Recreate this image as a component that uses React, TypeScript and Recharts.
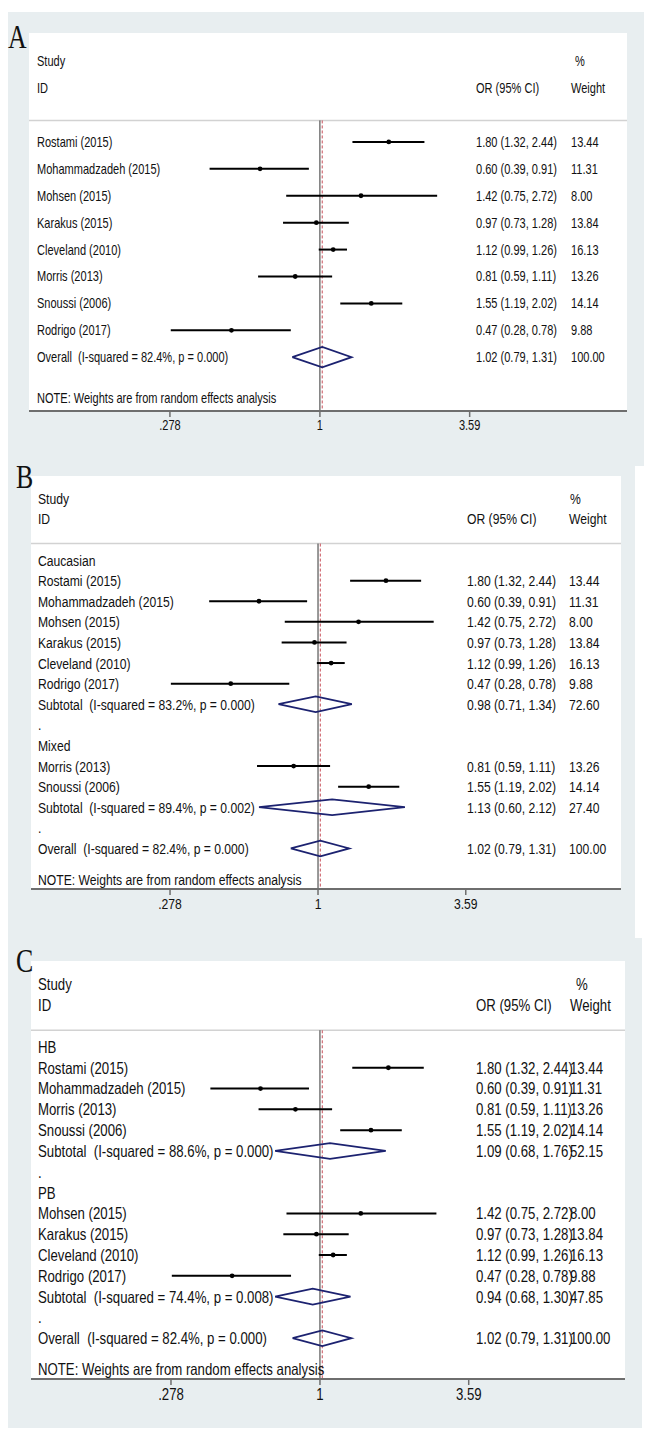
import React from "react";
import {
  ComposedChart,
  Scatter,
  XAxis,
  YAxis,
  ReferenceLine,
  ErrorBar,
  CartesianGrid,
} from "recharts";

// ---------- data ----------
const studyNames = [
  "Rostami (2015)",
  "Mohammadzadeh (2015)",
  "Mohsen (2015)",
  "Karakus (2015)",
  "Cleveland (2010)",
  "Morris (2013)",
  "Snoussi (2006)",
  "Rodrigo (2017)",
];
const studyOR = [1.8, 0.6, 1.42, 0.97, 1.12, 0.81, 1.55, 0.47];
const studyLo = [1.32, 0.39, 0.75, 0.73, 0.99, 0.59, 1.19, 0.28];
const studyHi = [2.44, 0.91, 2.72, 1.28, 1.26, 1.11, 2.02, 0.78];
const studyWeight = ["13.44", "11.31", "8.00", "13.84", "16.13", "13.26", "14.14", "9.88"];

const orderA = [0, 1, 2, 3, 4, 5, 6, 7];

const groupNamesB = ["Caucasian", "Mixed"];
const groupStudiesB = [[0, 1, 2, 3, 4, 7], [5, 6]];
const groupOrB = [0.98, 1.13];
const groupLoB = [0.71, 0.6];
const groupHiB = [1.34, 2.12];
const groupWeightB = ["72.60", "27.40"];
const groupI2B = ["83.2%", "89.4%"];
const groupPB = ["0.000", "0.002"];

const groupNamesC = ["HB", "PB"];
const groupStudiesC = [[0, 1, 5, 6], [2, 3, 4, 7]];
const groupOrC = [1.09, 0.94];
const groupLoC = [0.68, 0.68];
const groupHiC = [1.76, 1.3];
const groupWeightC = ["52.15", "47.85"];
const groupI2C = ["88.6%", "74.4%"];
const groupPC = ["0.000", "0.008"];

const overallOR = 1.02;
const overallLo = 0.79;
const overallHi = 1.31;
const overallWeight = "100.00";
const overallI2 = "82.4%";
const overallP = "0.000";

const tickValues = [0.278, 1, 3.59];
const tickLabels = [".278", "1", "3.59"];
const noteText = "NOTE: Weights are from random effects analysis";

// ---------- styling ----------
const FONT = '"Liberation Sans", Arial, Helvetica, sans-serif';
const SERIF = '"Liberation Serif", "DejaVu Serif", serif';
const SX = 0.8;
const GRAY = "#e8eef0";
const NAVY = "#1c2270";
const X_DOMAIN = [0.0835, 13.75];
const SEP = -0.8;
const DH = 0.38;

type Row = {
  y: number;
  kind: "head" | "group" | "study" | "pooled" | "dot" | "note";
  label: string;
  ci?: string;
  w?: string;
  or?: number;
  lo?: number;
  hi?: number;
};

const f2 = (n: number) => n.toFixed(2);
const ciStr = (o: number, l: number, h: number) => `${f2(o)} (${f2(l)}, ${f2(h)})`;

type Group = {
  name?: string;
  idx: number[];
  pooled?: { or: number; lo: number; hi: number; w: string; i2: string; p: string };
};

function buildRows(groups: Group[]): Row[] {
  const rows: Row[] = [
    { y: -3, kind: "head", label: "Study", w: "%" },
    { y: -2, kind: "head", label: "ID", ci: "OR (95% CI)", w: "Weight" },
  ];
  let y = 0;
  groups.forEach((g) => {
    if (g.name) rows.push({ y: y++, kind: "group", label: g.name });
    g.idx.forEach((i) => {
      rows.push({
        y: y++,
        kind: "study",
        label: studyNames[i],
        ci: ciStr(studyOR[i], studyLo[i], studyHi[i]),
        w: studyWeight[i],
        or: studyOR[i],
        lo: studyLo[i],
        hi: studyHi[i],
      });
    });
    if (g.pooled) {
      const p = g.pooled;
      rows.push({
        y: y++,
        kind: "pooled",
        label: `Subtotal  (I-squared = ${p.i2}, p = ${p.p})`,
        ci: ciStr(p.or, p.lo, p.hi),
        w: p.w,
        or: p.or,
        lo: p.lo,
        hi: p.hi,
      });
      rows.push({ y: y++, kind: "dot", label: "." });
    }
  });
  rows.push({
    y: y,
    kind: "pooled",
    label: `Overall  (I-squared = ${overallI2}, p = ${overallP})`,
    ci: ciStr(overallOR, overallLo, overallHi),
    w: overallWeight,
    or: overallOR,
    lo: overallLo,
    hi: overallHi,
  });
  rows.push({ y: y + 1.5, kind: "note", label: noteText });
  return rows;
}

const rowsA = buildRows([{ idx: orderA }]);
const rowsB = buildRows(
  groupNamesB.map((n, k) => ({
    name: n,
    idx: groupStudiesB[k],
    pooled: { or: groupOrB[k], lo: groupLoB[k], hi: groupHiB[k], w: groupWeightB[k], i2: groupI2B[k], p: groupPB[k] },
  }))
);
const rowsC = buildRows(
  groupNamesC.map((n, k) => ({
    name: n,
    idx: groupStudiesC[k],
    pooled: { or: groupOrC[k], lo: groupLoC[k], hi: groupHiC[k], w: groupWeightC[k], i2: groupI2C[k], p: groupPC[k] },
  }))
);

type Cfg = {
  top: number;
  height: number;
  grayWidth: number;
  margin: { top: number; right: number; bottom: number; left: number };
  yDomain: [number, number];
  fs: number;
  labelX: number;
  ciX: number;
  wX: number;
  pctDx: number;
  letter: string;
  letterX: number;
  letterBase: number;
};

const cfgA: Cfg = {
  top: 12,
  height: 454,
  grayWidth: 636,
  margin: { top: 21, right: 23, bottom: 25, left: 29 },
  yDomain: [-4.05, 10],
  fs: 13.8,
  labelX: 37,
  ciX: 476,
  wX: 571,
  pctDx: 4,
  letter: "A",
  letterX: 8,
  letterBase: 48,
};
const cfgB: Cfg = {
  top: 466,
  height: 472,
  grayWidth: 627,
  margin: { top: 10, right: 29, bottom: 19, left: 31 },
  yDomain: [-4.08, 15.97],
  fs: 15.2,
  labelX: 38,
  ciX: 467,
  wX: 569,
  pctDx: 1,
  letter: "B",
  letterX: 16,
  letterBase: 488,
};
const cfgC: Cfg = {
  top: 938,
  height: 490,
  grayWidth: 634,
  margin: { top: 23, right: 25, bottom: 19, left: 31 },
  yDomain: [-4.13, 15.96],
  fs: 16.5,
  labelX: 38,
  ciX: 476,
  wX: 570,
  pctDx: 6,
  letter: "C",
  letterX: 16,
  letterBase: 972,
};

function STxt({ x, y, text, fs, anchor = "start" }: { x: number; y: number; text: string; fs: number; anchor?: string }) {
  return (
    <text
      transform={`translate(${x},${y}) scale(${SX},1)`}
      fontSize={fs}
      fontFamily={FONT}
      fill="#111"
      dy="0.36em"
      textAnchor={anchor as any}
      style={{ whiteSpace: "pre" }}
    >
      {text}
    </text>
  );
}

function ForestPanel({ cfg, rows }: { cfg: Cfg; rows: Row[] }) {
  const studyPts = rows
    .filter((r) => r.kind === "study")
    .map((r) => ({ x: r.or as number, y: r.y, err: [(r.or as number) - (r.lo as number), (r.hi as number) - (r.or as number)] }));
  const pooled = rows.filter((r) => r.kind === "pooled");
  const textPts = rows.map((r) => ({ x: 1, y: r.y, row: r }));
  const yMax = cfg.yDomain[1];

  const textShape = (p: any) => {
    const row: Row | undefined = p.payload && p.payload.row;
    if (!row) return <g />;
    const y = p.cy;
    return (
      <g>
        <STxt x={cfg.labelX} y={y} text={row.label} fs={cfg.fs} />
        {row.ci && <STxt x={cfg.ciX} y={y} text={row.ci} fs={cfg.fs} />}
        {row.w && <STxt x={cfg.wX + (row.w === "%" ? cfg.pctDx : 0)} y={y} text={row.w} fs={cfg.fs} />}
      </g>
    );
  };

  const xTick = (p: any) => {
    const i = tickValues.findIndex((t) => Math.abs(t - p.payload.value) < 1e-6);
    return (
      <g transform={`translate(${p.x},${p.y + 1})`}>
        <text transform={`scale(${SX},1)`} textAnchor="middle" dy="0.71em" fontSize={cfg.fs} fontFamily={FONT} fill="#111">
          {i >= 0 ? tickLabels[i] : ""}
        </text>
      </g>
    );
  };

  return (
    <>
      <div
        style={{
          position: "absolute",
          left: 8,
          top: cfg.top,
          width: cfg.grayWidth,
          height: cfg.height,
          background: GRAY,
        }}
      />
      <div style={{ position: "absolute", left: 0, top: cfg.top }}>
        <ComposedChart width={650} height={cfg.height} margin={cfg.margin}>
          <CartesianGrid fill="#ffffff" fillOpacity={1} horizontal={false} vertical={false} stroke="none" />
          <XAxis
            type="number"
            dataKey="x"
            scale="log"
            domain={X_DOMAIN}
            allowDataOverflow
            ticks={tickValues}
            interval={0}
            height={30}
            axisLine={{ stroke: "#6e6e6e", strokeWidth: 2 }}
            tickLine={{ stroke: "#6e6e6e", strokeWidth: 1.5 }}
            tickSize={6}
            tick={xTick}
          />
          <YAxis type="number" dataKey="y" domain={cfg.yDomain} allowDataOverflow reversed hide />
          <ReferenceLine y={SEP} stroke="#d2d2d2" strokeWidth={1.5} />
          <ReferenceLine
            segment={[
              { x: 1, y: SEP },
              { x: 1, y: yMax },
            ]}
            stroke="#333"
            strokeWidth={1}
          />
          <ReferenceLine
            segment={[
              { x: overallOR, y: SEP },
              { x: overallOR, y: yMax },
            ]}
            stroke="#c8505a"
            strokeWidth={1}
            strokeDasharray="3 2"
          />
          <Scatter
            data={studyPts}
            isAnimationActive={false}
            shape={(p: any) => <circle cx={p.cx} cy={p.cy} r={2.4} fill="#000" />}
          >
            <ErrorBar dataKey="err" direction="x" width={0} stroke="#000" strokeWidth={2} />
          </Scatter>
          {pooled.map((r, k) => (
            <Scatter
              key={k}
              data={[
                { x: r.lo, y: r.y },
                { x: r.or, y: r.y - DH },
                { x: r.hi, y: r.y },
                { x: r.or, y: r.y + DH },
                { x: r.lo, y: r.y },
              ]}
              line={{ stroke: NAVY, strokeWidth: 1.8 }}
              isAnimationActive={false}
              shape={() => <g />}
            />
          ))}
          <Scatter data={textPts} isAnimationActive={false} shape={textShape} />
        </ComposedChart>
      </div>
    </>
  );
}

export default function App() {
  const cfgs = [cfgA, cfgB, cfgC];
  return (
    <div style={{ position: "absolute", left: 0, top: 0, width: 650, height: 1440, background: "#fff" }}>
      <ForestPanel cfg={cfgA} rows={rowsA} />
      <ForestPanel cfg={cfgB} rows={rowsB} />
      <ForestPanel cfg={cfgC} rows={rowsC} />
      <svg width={650} height={1440} style={{ position: "absolute", left: 0, top: 0, pointerEvents: "none" }}>
        {cfgs.map((c) => (
          <text
            key={c.letter}
            transform={`translate(${c.letterX},${c.letterBase}) scale(0.76,1)`}
            fontSize={34}
            fontFamily={SERIF}
            fill="#111"
          >
            {c.letter}
          </text>
        ))}
      </svg>
    </div>
  );
}
